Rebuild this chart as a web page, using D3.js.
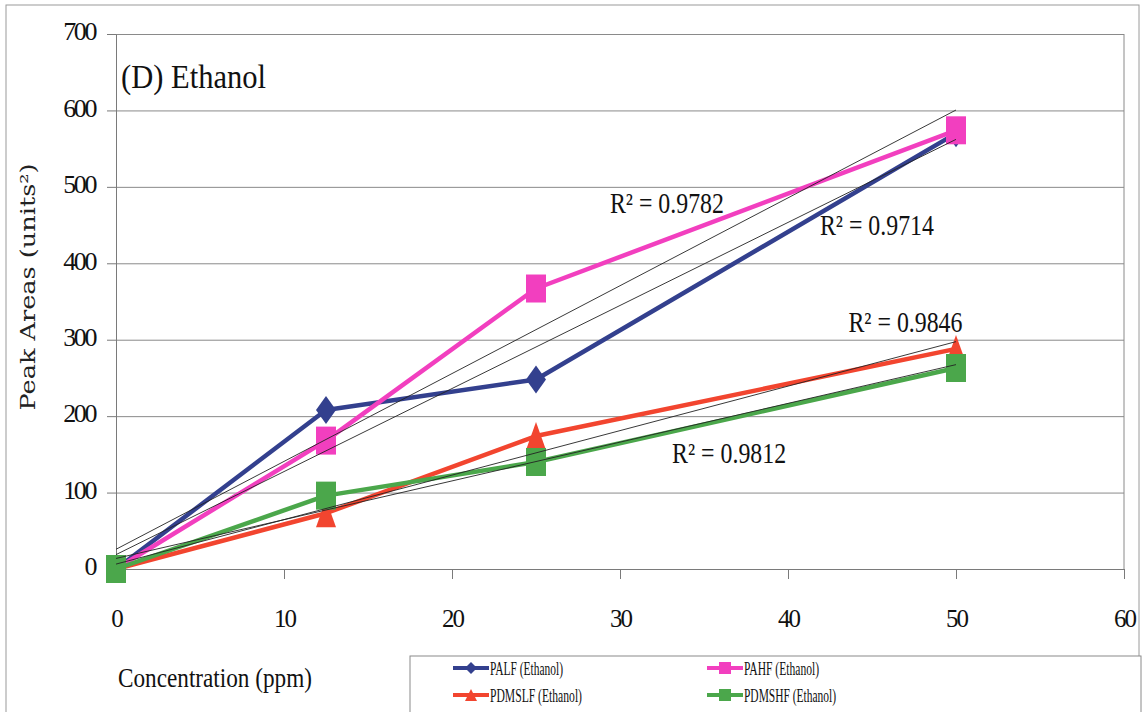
<!DOCTYPE html>
<html>
<head>
<meta charset="utf-8">
<script src="https://cdn.jsdelivr.net/npm/d3@7"></script>
<style>
body { margin: 0; background: #fff; }
svg { display: block; }
.axis path, .axis line { stroke: #7a7a7a; }
.grid line { stroke: #8a8a8a; }
.grid path { display: none; }
</style>
</head>
<body>
<div class="chart"></div>
<script>
// concentration (ppm) for each injection
var concentrations = [0, 12.5, 25, 50];
var seriesNames = ["PALF (Ethanol)", "PAHF (Ethanol)", "PDMSLF (Ethanol)", "PDMSHF (Ethanol)"];
// peak areas
var palf = [0, 208, 248, 570];
var pahf = [0, 168, 367, 574];
var pdmslf = [0, 73, 174, 288];
var pdmshf = [0, 96, 140, 263];
var rSquared = ["0.9714", "0.9782", "0.9846", "0.9812"];
var xTicks = [0, 10, 20, 30, 40, 50, 60];
var yTicks = [0, 100, 200, 300, 400, 500, 600, 700];

var serif = "'Liberation Serif', 'Times New Roman', serif";

var margin = {top: 34, right: 22, bottom: 143, left: 116},
    width = 1146 - margin.left - margin.right,
    height = 712 - margin.top - margin.bottom;

var series = [
    {name: seriesNames[0], values: palf, color: "#33408e", marker: "diamond"},
    {name: seriesNames[1], values: pahf, color: "#f23fbf", marker: "square"},
    {name: seriesNames[2], values: pdmslf, color: "#f2452f", marker: "triangle"},
    {name: seriesNames[3], values: pdmshf, color: "#4ba74b", marker: "square"}
];

var xScale = d3.scaleLinear().domain([0, 60]).range([0, width]);
var yScale = d3.scaleLinear().domain([0, 700]).range([height, 0]);

var svg = d3.select(".chart")
    .append("svg")
    .attr("width", 1146)
    .attr("height", 712);

// outer chart frame
svg.append("rect")
    .attr("x", 6).attr("y", 5)
    .attr("width", 1133).attr("height", 740)
    .style("fill", "none")
    .style("stroke", "#9a9a9a");

var canvas = svg.append("g")
    .attr("transform", "translate(" + margin.left + "," + margin.top + ")");

// horizontal gridlines
canvas.append("g")
    .attr("class", "grid")
    .call(d3.axisLeft(yScale).tickValues(yTicks).tickSize(-width).tickFormat(""));

// right border of the plot area
canvas.append("line")
    .attr("x1", width).attr("x2", width)
    .attr("y1", 0).attr("y2", height)
    .style("stroke", "#8a8a8a");

var yAxis = canvas.append("g")
    .attr("class", "y axis")
    .call(d3.axisLeft(yScale).tickValues(yTicks).tickSize(9).tickSizeOuter(0).tickPadding(12));

yAxis.selectAll("text")
    .attr("dy", "0.22em")
    .style("font-family", serif)
    .style("font-size", "26px")
    .style("letter-spacing", "-2.4px")
    .style("fill", "#111");

var xAxis = canvas.append("g")
    .attr("class", "x axis")
    .attr("transform", "translate(0," + height + ")")
    .call(d3.axisBottom(xScale).tickValues(xTicks).tickSize(10).tickSizeOuter(0).tickPadding(30));

xAxis.selectAll("text")
    .style("font-family", serif)
    .style("font-size", "25px")
    .style("letter-spacing", "-2px")
    .style("fill", "#111");

// data lines
var valueline = d3.line()
    .x(function (d) { return xScale(d[0]); })
    .y(function (d) { return yScale(d[1]); });

series.forEach(function (s) {
    var pts = concentrations.map(function (c, i) { return [c, s.values[i]]; });
    canvas.append("path")
        .attr("class", "line")
        .attr("d", valueline(pts))
        .style("fill", "none")
        .style("stroke", s.color)
        .style("stroke-width", 4.5)
        .style("stroke-linejoin", "round");
});

function markerPath(type, w, h) {
    var a = w / 2, b = h / 2;
    if (type === "diamond") return "M0," + (-b) + "L" + a + ",0L0," + b + "L" + (-a) + ",0Z";
    if (type === "triangle") return "M0," + (-b) + "L" + a + "," + b + "L" + (-a) + "," + b + "Z";
    return "M" + (-a) + "," + (-b) + "H" + a + "V" + b + "H" + (-a) + "Z";
}

// markers, drawn after all lines
series.forEach(function (s) {
    canvas.append("g").selectAll("path")
        .data(concentrations)
        .enter().append("path")
        .attr("transform", function (d, i) {
            return "translate(" + xScale(d) + "," + yScale(s.values[i]) + ")";
        })
        .attr("d", markerPath(s.marker, 20, 28))
        .style("fill", s.color);
});

// linear trendlines (least squares) from 0 to 50
function fit(xs, ys) {
    var mx = d3.mean(xs), my = d3.mean(ys), sxy = 0, sxx = 0;
    xs.forEach(function (x, i) {
        sxy += (x - mx) * (ys[i] - my);
        sxx += (x - mx) * (x - mx);
    });
    var slope = sxy / sxx;
    return {slope: slope, intercept: my - slope * mx};
}

series.forEach(function (s) {
    var f = fit(concentrations, s.values);
    var x0 = d3.min(concentrations), x1 = d3.max(concentrations);
    canvas.append("line")
        .attr("x1", xScale(x0)).attr("y1", yScale(f.intercept + f.slope * x0))
        .attr("x2", xScale(x1)).attr("y2", yScale(f.intercept + f.slope * x1))
        .style("stroke", "#222")
        .style("stroke-width", 0.9);
});

// R² labels, placed next to their trendlines
var rPos = [[41.9, 437], [29.4, 466], [43.6, 310], [33.1, 139]];
rSquared.forEach(function (r, i) {
    canvas.append("text")
        .attr("x", xScale(rPos[i][0]))
        .attr("y", yScale(rPos[i][1]))
        .attr("textLength", 114)
        .attr("lengthAdjust", "spacingAndGlyphs")
        .style("font-family", serif)
        .style("font-size", "29px")
        .style("fill", "#111")
        .text("R\u00b2 = " + r);
});

// panel title
canvas.append("text")
    .attr("x", 5)
    .attr("y", 54)
    .attr("textLength", 145)
    .attr("lengthAdjust", "spacingAndGlyphs")
    .style("font-family", serif)
    .style("font-size", "34px")
    .style("fill", "#111")
    .text("(D) Ethanol");

// axis titles
svg.append("text")
    .attr("x", 118)
    .attr("y", 687)
    .attr("textLength", 194)
    .attr("lengthAdjust", "spacingAndGlyphs")
    .style("font-family", serif)
    .style("font-size", "28px")
    .style("fill", "#111")
    .text("Concentration (ppm)");

svg.append("text")
    .attr("transform", "translate(35,287) rotate(-90)")
    .attr("text-anchor", "middle")
    .attr("textLength", 247)
    .attr("lengthAdjust", "spacingAndGlyphs")
    .style("font-family", "'DejaVu Serif', serif")
    .style("font-size", "21px")
    .style("fill", "#222")
    .text("Peak Areas (units\u00b2)");

// legend
var legend = svg.append("g");
legend.append("rect")
    .attr("x", 410).attr("y", 656)
    .attr("width", 731).attr("height", 80)
    .style("fill", "#fff")
    .style("stroke", "#8a8a8a");

var legendPos = [[453, 668], [707, 668], [453, 695], [707, 695]];
var legendLen = [73, 75, 92, 92];
series.forEach(function (s, i) {
    var lx = legendPos[i][0], ly = legendPos[i][1];
    legend.append("line")
        .attr("x1", lx).attr("x2", lx + 36)
        .attr("y1", ly).attr("y2", ly)
        .style("stroke", s.color)
        .style("stroke-width", 4);
    legend.append("path")
        .attr("transform", "translate(" + (lx + 18) + "," + ly + ")")
        .attr("d", markerPath(s.marker, 12, 12))
        .style("fill", s.color);
    legend.append("text")
        .attr("x", lx + 37)
        .attr("y", ly + 7)
        .attr("textLength", legendLen[i])
        .attr("lengthAdjust", "spacingAndGlyphs")
        .style("font-family", serif)
        .style("font-size", "19px")
        .style("fill", "#111")
        .text(s.name);
});
</script>
</body>
</html>
